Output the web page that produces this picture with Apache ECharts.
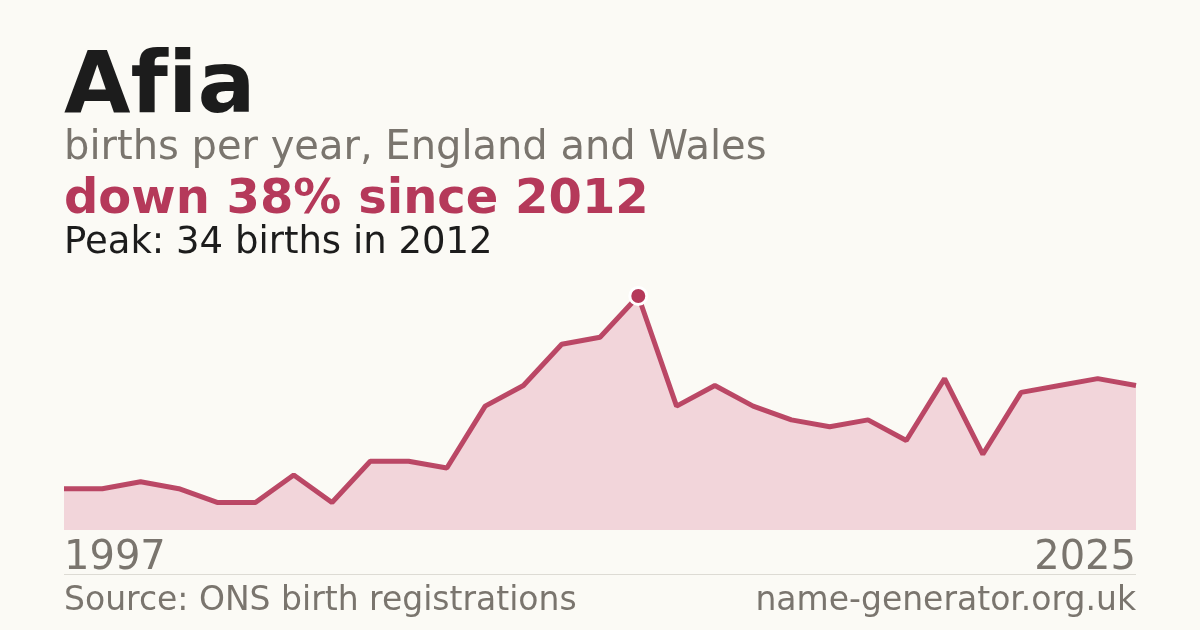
<!DOCTYPE html>
<html>
<head>
<meta charset="utf-8">
<title>Afia</title>
<script src="https://cdn.jsdelivr.net/npm/echarts@6/dist/echarts.min.js"></script>
<style>
  html, body { margin: 0; padding: 0; background: #fbfaf5; }
  #main { width: 1200px; height: 630px; }
</style>
</head>
<body>
<div id="main"></div>
<script>
var years = ['1997','1998','1999','2000','2001','2002','2003','2004','2005','2006',
             '2007','2008','2009','2010','2011','2012','2013','2014','2015','2016',
             '2017','2018','2019','2020','2021','2022','2023','2024','2025'];
var births = [6, 6, 7, 6, 4, 4, 8, 4, 10, 10,
              9, 18, 21, 27, 28, 34, 18, 21, 18, 16,
              15, 16, 13, 22, 11, 20, 21, 22, 21];

var red = '#b5395a';
var grey = '#7a756e';
var font = '"DejaVu Sans", sans-serif';

// peak point for the marker
var peakIdx = 0;
births.forEach(function (v, i) { if (v > births[peakIdx]) peakIdx = i; });
var peakData = births.map(function (v, i) { return i === peakIdx ? v : null; });

var myChart = echarts.init(document.getElementById('main'));

var option = {
    backgroundColor: '#fbfaf5',
    animation: false,
    grid: { left: 64, right: 64, top: 296, bottom: 100 },
    xAxis: {
        type: 'category',
        data: years,
        boundaryGap: false,
        axisLine: { show: false },
        axisTick: { show: false },
        splitLine: { show: false },
        axisLabel: {
            interval: function (i) { return i === 0 || i === years.length - 1; },
            alignMinLabel: 'left',
            alignMaxLabel: 'right',
            margin: 9,
            color: grey,
            fontFamily: font,
            fontSize: 40
        }
    },
    yAxis: {
        type: 'value',
        min: 0,
        max: 34,
        show: false
    },
    series: [
        {
            type: 'line',
            data: births,
            symbol: 'none',
            lineStyle: { color: red, width: 5, opacity: 0.92 },
            areaStyle: { color: '#f2d5da', opacity: 1 },
            z: 2
        },
        {
            type: 'line',
            data: peakData,
            symbol: 'circle',
            symbolSize: 17,
            showSymbol: true,
            lineStyle: { width: 0 },
            itemStyle: { color: red, borderColor: '#ffffff', borderWidth: 3 },
            z: 5
        }
    ],
    graphic: [
        // zero-width non-joiner keeps "f" and "i" apart, as in the original
        { type: 'text', left: 64, top: 47, style: { text: 'Af\u200Cia', font: 'bold 86px ' + font, fill: '#1c1c1c' } },
        { type: 'text', left: 64, top: 129, style: { text: 'births per year, England and Wales', font: '40px ' + font, fill: grey } },
        { type: 'text', left: 64, top: 177, style: { text: 'down 38% since 2012', font: 'bold 48px ' + font, fill: red } },
        { type: 'text', left: 64, top: 225, style: { text: 'Peak: 34 births in 2012', font: '37px ' + font, fill: '#1c1c1c' } },
        { type: 'line', shape: { x1: 64, y1: 574.5, x2: 1136, y2: 574.5 }, style: { stroke: '#dddbd4', lineWidth: 1 } },
        { type: 'text', left: 64, top: 585, style: { text: 'Source: ONS birth registrations', font: '33px ' + font, fill: grey } },
        { type: 'text', right: 64, top: 585, style: { text: 'name-generator.org.uk', font: '33px ' + font, fill: grey } }
    ]
};

myChart.setOption(option);
</script>
</body>
</html>
